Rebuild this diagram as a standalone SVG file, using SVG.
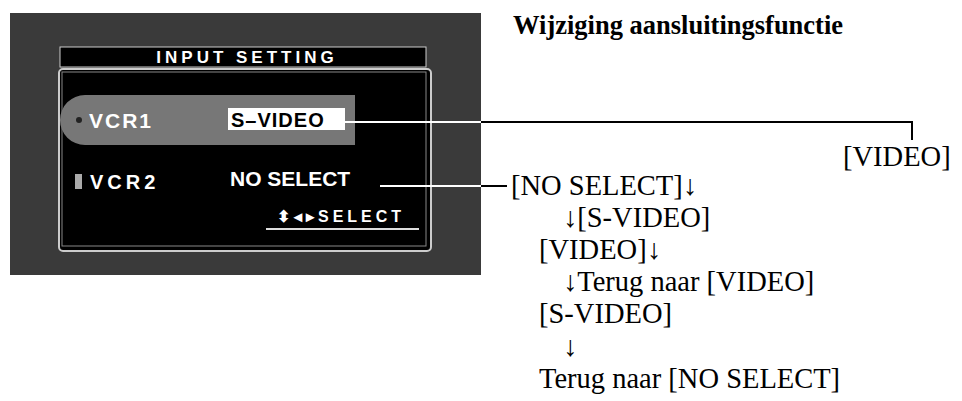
<svg xmlns="http://www.w3.org/2000/svg" width="962" height="401" viewBox="0 0 962 401">
<style>
.t{font-family:"Liberation Serif",serif;font-size:28.5px;fill:#000}
.s{font-family:"Liberation Sans",Arial,sans-serif;font-weight:bold;fill:#fff}
.c{stroke:#000;stroke-width:2;fill:none}
</style>
<rect width="962" height="401" fill="#fff"/>
<g id="screen">
<rect x="10" y="13" width="471" height="262" fill="#3a3a3a"/>
<rect x="60" y="47" width="366" height="20" fill="#000" stroke="#ccc" stroke-width="1"/>
<text class="s" x="247" y="63" font-size="17" letter-spacing="4" text-anchor="middle">INPUT SETTING</text>
<rect x="59" y="69" width="372" height="182" rx="4" fill="#000" stroke="#ccc" stroke-width="2"/>
<rect x="62" y="72" width="364" height="174" fill="#000" stroke="#888" stroke-width="1"/>
<path d="M85 95 H355 V145 H85 A25 25 0 0 1 85 95 Z" fill="#777"/>
<circle cx="79" cy="120" r="3" fill="#222"/>
<text class="s" x="89" y="128" font-size="21" letter-spacing="2">VCR1</text>
<rect x="228" y="108" width="117" height="22" fill="#fff"/>
<text class="s" x="231" y="127" font-size="20" letter-spacing="1" style="fill:#000">S–VIDEO</text>
<rect x="75" y="174" width="7" height="15" fill="#aaa"/>
<text class="s" x="90" y="189" font-size="20" letter-spacing="4">VCR2</text>
<text class="s" x="230" y="186" font-size="21">NO SELECT</text>
<text class="s" x="277" y="222" font-size="16" letter-spacing="4">⬍◂▸SELECT</text>
<line x1="266" y1="229" x2="419" y2="229" stroke="#ddd" stroke-width="2"/>
</g>
<g id="connectors">
<path d="M345 122 H481" stroke="#fff" stroke-width="2"/>
<path class="c" d="M481 122 H912 V140"/>
<path d="M380 186 H481" stroke="#fff" stroke-width="2"/>
<path class="c" d="M481 186 H507"/>
</g>
<g id="labels">
<text x="513" y="34" font-family="Liberation Serif,serif" font-size="26.5" font-weight="bold">Wijziging aansluitingsfunctie</text>
<text class="t" x="843" y="166">[VIDEO]</text>
<text class="t" x="511" y="195">[NO SELECT]↓</text>
<text class="t" x="563" y="227">↓[S-VIDEO]</text>
<text class="t" x="539" y="259">[VIDEO]↓</text>
<text class="t" x="563" y="291">↓Terug naar  [VIDEO]</text>
<text class="t" x="539" y="323">[S-VIDEO]</text>
<text class="t" x="563" y="356">↓</text>
<text class="t" x="539" y="388">Terug naar [NO SELECT]</text>
</g>
</svg>
